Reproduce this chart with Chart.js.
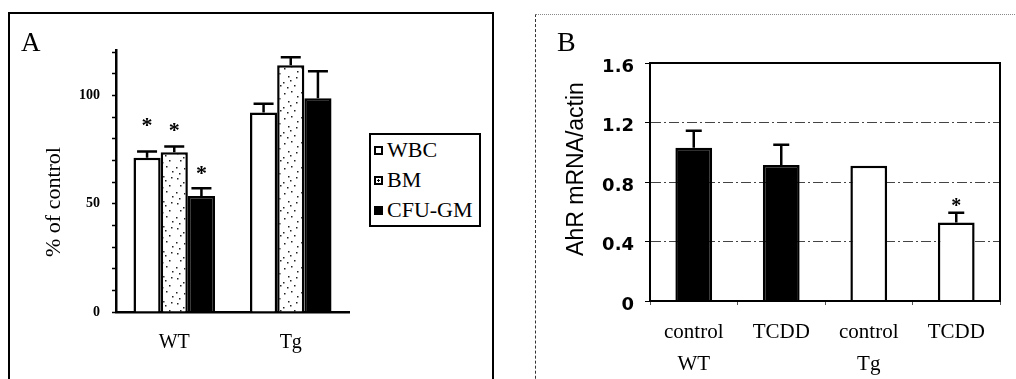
<!DOCTYPE html>
<html><head><meta charset="utf-8">
<script src="https://cdn.jsdelivr.net/npm/chart.js@4.4.1/dist/chart.umd.min.js"></script>
<style>
html,body{margin:0;padding:0;background:#fff;}
body{width:1016px;height:379px;position:relative;overflow:hidden;font-family:"Liberation Serif",serif;color:#000;}
#frameA{position:absolute;left:8px;top:12px;width:486px;height:420px;border:2.5px solid #000;box-sizing:border-box;}
#frameB{position:absolute;left:535px;top:14px;width:500px;height:420px;border-left:1.5px dashed #333;border-top:1.5px dotted #888;box-sizing:border-box;}
canvas{position:absolute;top:0;}
#cA{left:0;} #cB{left:510px;}
.letter{position:absolute;font-family:"Liberation Serif",serif;line-height:1;}
.ytitle{position:absolute;transform:translate(-50%,-50%) rotate(-90deg);white-space:nowrap;line-height:1;}
#legend{position:absolute;left:369px;top:133px;width:112px;height:94px;border:2.5px solid #000;box-sizing:border-box;font-family:"Liberation Serif",serif;font-size:22px;background:#fff;}
#legend .it{height:30px;line-height:30px;white-space:nowrap;display:flex;align-items:center;}
#legend .sq{width:9px;height:9px;box-sizing:border-box;margin-left:3px;margin-right:4px;border:2px solid #000;}
</style></head>
<body>
<div id="frameA"></div>
<div id="frameB"></div>
<canvas id="cA" width="500" height="379"></canvas>
<canvas id="cB" width="506" height="379"></canvas>
<div class="letter" style="left:21px;top:29px;font-size:27px;">A</div>
<div class="letter" style="left:557px;top:28px;font-size:28px;">B</div>
<div class="ytitle" style="left:53px;top:202px;font-family:'Liberation Serif',serif;font-size:22px;">% of control</div>
<div class="ytitle" style="left:575px;top:169px;font-family:'Liberation Sans',sans-serif;font-size:23px;">AhR mRNA/actin</div>
<div id="legend"></div>
<script>
// ---------- Panel A data ----------
const groupsA = ['WT', 'Tg'];
const seriesA = ['WBC', 'BM', 'CFU-GM'];
const wbcVals = [71.2, 92.1];
const bmVals = [73.8, 113.9];
const cfuVals = [53.6, 98.7];
const wbcSem = [2.9, 4.1];
const bmSem = [2.6, 3.8];
const cfuSem = [3.6, 12.5];
const wbcStar = [88, null];
const bmStar = [86, null];
const cfuStar = [66, null];
const ticksA = [0, 50, 100];

// ---------- Panel B data ----------
const categoriesB = [['control', 'WT'], 'TCDD', ['control', 'Tg'], 'TCDD'];
const ahrVals = [1.03, 0.915, 0.91, 0.527];
const ahrSem = [0.115, 0.135, null, 0.067];
const ahrStar = [null, null, null, 0.665];
const ticksB = [0, 0.4, 0.8, 1.2, 1.6];

// stipple pattern for BM bars (fixed dot layout)
const dotSpots = [[2,3],[15,5],[21,2],[5,10],[12,12],[19,10],[1,17],[9,18],[16,16],[22,21],[4,23],[13,1],[8,7]];
function makeStipple(){
  const t = document.createElement('canvas'); t.width = 25; t.height = 25;
  const c = t.getContext('2d'); c.fillStyle = '#fff'; c.fillRect(0,0,25,25);
  c.fillStyle = '#222';
  dotSpots.forEach(p => c.fillRect(p[0], p[1], 1.5, 1.5));
  return document.getElementById('cA').getContext('2d').createPattern(t, 'repeat');
}
const stipple = makeStipple();

// legend (HTML)
const legendStyles = ['background:#fff', 'background:radial-gradient(circle,#000 0 1px,#fff 1.2px)', 'background:#000'];
const lg = document.getElementById('legend');
seriesA.forEach((s, i) => {
  const d = document.createElement('div'); d.className = 'it';
  d.innerHTML = '<span class="sq" style="' + legendStyles[i] + '"></span><span>' + s + '</span>';
  lg.appendChild(d);
});

const errorBars = {
  id: 'errorBars',
  afterDatasetsDraw(chart, args, opts) {
    const ctx = chart.ctx, y = chart.scales.y;
    chart.data.datasets.forEach((ds, i) => {
      const meta = chart.getDatasetMeta(i);
      meta.data.forEach((bar, j) => {
        const sem = ds.sem ? ds.sem[j] : null;
        ctx.save();
        ctx.strokeStyle = '#000'; ctx.lineWidth = opts.lw;
        if (sem != null) {
          const top = y.getPixelForValue(ds.data[j] + sem);
          ctx.beginPath();
          ctx.moveTo(bar.x, bar.y); ctx.lineTo(bar.x, top);
          ctx.moveTo(bar.x - opts.cap / 2, top); ctx.lineTo(bar.x + opts.cap / 2, top);
          ctx.stroke();
        }
        const st = ds.star ? ds.star[j] : null;
        if (st != null) {
          const py = y.getPixelForValue(st);
          ctx.fillStyle = '#000';
          ctx.font = 'bold ' + opts.starSize + 'px "Liberation Serif"';
          ctx.textAlign = 'center'; ctx.textBaseline = 'alphabetic';
          ctx.fillText('*', bar.x, py + opts.starSize * 0.5);
        }
        ctx.restore();
      });
    });
  }
};
const frameBox = {
  id: 'frameBox',
  afterDraw(chart, args, opts) {
    if (!opts.on) return;
    const a = chart.chartArea, ctx = chart.ctx;
    ctx.save(); ctx.strokeStyle = '#000'; ctx.lineWidth = 2; ctx.setLineDash([]);
    ctx.strokeRect(a.left, a.top, a.right - a.left, a.bottom - a.top);
    ctx.restore();
  }
};

// ---------- Chart A ----------
new Chart(document.getElementById('cA'), {
  type: 'bar',
  data: {
    labels: groupsA,
    datasets: [
      { label: seriesA[0], data: wbcVals, sem: wbcSem, star: wbcStar, backgroundColor: '#fff', borderColor: '#000', borderWidth: 2.5 },
      { label: seriesA[1], data: bmVals, sem: bmSem, star: bmStar, backgroundColor: stipple, borderColor: '#000', borderWidth: 2.5 },
      { label: seriesA[2], data: cfuVals, sem: cfuSem, star: cfuStar, backgroundColor: '#000', borderColor: '#000', borderWidth: 2.5 }
    ]
  },
  options: {
    responsive: false, animation: false, devicePixelRatio: 1,
    categoryPercentage: 0.70, barPercentage: 1.0,
    layout: { padding: { left: 0, top: 50, right: 151, bottom: 0 } },
    plugins: { legend: { display: false }, tooltip: { enabled: false },
      errorBars: { lw: 2.5, cap: 20, starSize: 22 }, frameBox: { on: false } },
    scales: {
      x: {
        grid: { display: false },
        border: { display: true, color: '#000', width: 2.5 },
        ticks: { color: '#000', padding: 11, font: { family: 'Liberation Serif', size: 20 } },
        afterFit: s => { s.height = 67; }
      },
      y: {
        min: 0, max: 121,
        grid: { drawOnChartArea: false, tickLength: 4, tickColor: '#000', tickWidth: 1.5 },
        border: { display: true, color: '#000', width: 2.5 },
        ticks: { stepSize: 10, includeBounds: false, color: '#000', padding: 12,
          font: { family: 'Liberation Serif', size: 14, weight: 'bold' },
          callback: v => ticksA.includes(v) ? String(v) : '' },
        afterFit: s => { s.width = 116; }
      }
    }
  },
  plugins: [errorBars, frameBox]
});

// ---------- Chart B ----------
new Chart(document.getElementById('cB'), {
  type: 'bar',
  data: {
    labels: categoriesB,
    datasets: [{
      label: 'AhR mRNA/actin', data: ahrVals, sem: ahrSem, star: ahrStar,
      backgroundColor: ['#000', '#000', '#fff', '#fff'], borderColor: '#000', borderWidth: 2.5
    }]
  },
  options: {
    responsive: false, animation: false, devicePixelRatio: 1,
    categoryPercentage: 1.0, barPercentage: 0.42,
    layout: { padding: { left: 0, top: 63, right: 16, bottom: 0 } },
    plugins: { legend: { display: false }, tooltip: { enabled: false },
      errorBars: { lw: 2.5, cap: 16, starSize: 20 }, frameBox: { on: true } },
    scales: {
      x: {
        grid: { display: true, drawOnChartArea: false, tickLength: 4, tickColor: '#555', tickWidth: 1 },
        border: { display: true, color: '#000', width: 2 },
        ticks: { color: '#000', padding: 12, font: { family: 'Liberation Serif', size: 21, lineHeight: 1.52 } },
        afterFit: s => { s.height = 78; }
      },
      y: {
        min: 0, max: 1.6,
        afterBuildTicks: s => { s.ticks = ticksB.map(v => ({ value: v })); },
        grid: { color: '#444', lineWidth: 1, tickLength: 5, tickColor: '#000', tickWidth: 1, tickBorderDash: [] },
        border: { display: true, color: '#000', width: 2, dash: [10, 3, 2, 3] },
        ticks: { color: '#000', padding: 11, labelOffset: 4,
          font: { family: 'DejaVu Sans', size: 18, weight: 'bold' },
          callback: v => String(v) },
        afterFit: s => { s.width = 140; }
      }
    }
  },
  plugins: [errorBars, frameBox]
});
</script>
</body></html>
